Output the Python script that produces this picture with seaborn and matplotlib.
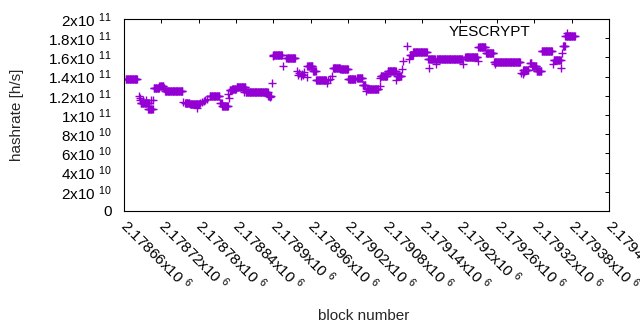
import numpy as np
import pandas as pd
import matplotlib
matplotlib.use("Agg")
import matplotlib.pyplot as plt
import seaborn as sns

# ---------------- data ----------------
block_base = 2178660

# runs of consecutive blocks with (nearly) constant hashrate, in 1e9 h/s
seg_start = [3, 27, 39, 48, 57, 64, 66, 98, 106, 138, 155, 158, 170, 174, 181,
             196, 232, 240, 261, 295, 304, 309, 336, 348, 361, 375, 384, 391,
             413, 424, 439, 460, 465, 489, 503, 549, 552, 570, 582, 595, 605,
             642, 653, 656, 664, 672, 691, 706, 710]
seg_end = [21, 40, 46, 56, 63, 65, 94, 105, 121, 153, 157, 167, 173, 180, 195,
           231, 236, 254, 275, 303, 308, 325, 347, 360, 372, 383, 388, 409,
           423, 437, 446, 464, 487, 500, 544, 551, 568, 581, 594, 604, 637,
           650, 655, 663, 671, 688, 702, 709, 725]
seg_hashrate = [137.7, 113.0, 106.7, 128.5, 130.0, 128.0, 124.7, 113.0, 111.0,
                119.5, 112.0, 109.3, 126.0, 127.0, 129.5, 123.6, 120.0, 162.4,
                159.3, 151.3, 146.0, 136.8, 149.2, 148.2, 137.3, 139.0, 131.0,
                127.5, 141.0, 145.6, 141.0, 163.0, 165.8, 158.5, 158.2, 160.0,
                160.6, 170.5, 165.1, 155.4, 154.7, 147.0, 154.0, 151.0, 146.1,
                166.8, 157.8, 172.0, 181.8]

# isolated blocks (offset from block_base), in 1e9 h/s
pt_block = [24, 25, 26, 31, 36, 44, 47, 95, 117, 122, 125, 128, 131, 134,
            168, 169, 193, 235, 238, 239, 256, 278, 280, 282, 284, 286, 288,
            290, 294, 327, 328, 331, 334, 364, 389, 411, 412, 438, 447, 449,
            455, 458, 491, 501, 545, 569, 597, 639, 641, 643, 690, 703, 705,
            713]
pt_hashrate = [120.2, 118.0, 115.7, 115.7, 115.7, 115.7, 116.0, 113.3, 107.0,
               112.0, 113.5, 115.0, 116.0, 117.0, 122.0, 118.0, 124.4, 118.5,
               133.4, 161.7, 151.3, 146.0, 142.0, 144.0, 141.0, 143.0, 142.0,
               145.0, 140.0, 133.7, 136.0, 138.0, 141.0, 138.0, 125.4, 130.6,
               139.0, 136.8, 148.0, 156.5, 172.0, 158.5, 149.0, 153.0, 153.0,
               156.0, 153.0, 144.0, 143.0, 145.0, 153.0, 149.0, 165.0, 185.5]

x_ticks = [2178660, 2178720, 2178780, 2178840, 2178900, 2178960, 2179020,
           2179080, 2179140, 2179200, 2179260, 2179320, 2179380, 2179440]
x_tick_labels = ["2.17866x10", "2.17872x10", "2.17878x10", "2.17884x10",
                 "2.1789x10", "2.17896x10", "2.17902x10", "2.17908x10",
                 "2.17914x10", "2.1792x10", "2.17926x10", "2.17932x10",
                 "2.17938x10", "2.17944x10"]
x_tick_exp = "6"

y_ticks = [0, 2e10, 4e10, 6e10, 8e10, 1e11, 1.2e11, 1.4e11, 1.6e11, 1.8e11, 2e11]
y_tick_mant = ["0", "2x10", "4x10", "6x10", "8x10", "1x10", "1.2x10", "1.4x10",
               "1.6x10", "1.8x10", "2x10"]
y_tick_exp = ["", "10", "10", "10", "10", "11", "11", "11", "11", "11", "11"]

# ---------------- build table ----------------
blocks, rates = [], []
for s, e, v in zip(seg_start, seg_end, seg_hashrate):
    for b in range(s, e + 1):
        blocks.append(block_base + b)
        rates.append(v * 1e9)
for b, v in zip(pt_block, pt_hashrate):
    blocks.append(block_base + b)
    rates.append(v * 1e9)
df = pd.DataFrame({"block": blocks, "hashrate": rates}).sort_values("block")

# ---------------- style ----------------
sns.set_style("white")
plt.rcParams["font.family"] = ["Liberation Sans", "DejaVu Sans"]
plt.rcParams["mathtext.fontset"] = "custom"
plt.rcParams["mathtext.rm"] = "Liberation Sans"
plt.rcParams["mathtext.it"] = "Liberation Sans:italic"
plt.rcParams["mathtext.bf"] = "Liberation Sans:bold"

fig = plt.figure(figsize=(6.4, 3.3), dpi=100)
ax = fig.add_axes([124 / 640, 1 - 211 / 330, 485 / 640, 192 / 330])

sns.scatterplot(data=df, x="block", y="hashrate", marker="+", s=34,
                color="#9400D3", linewidth=1.0, ax=ax, legend=False)

ax.set_xlim(2178660, 2179440)
ax.set_ylim(0, 2e11)

ax.set_xticks(x_ticks)
ax.set_xticklabels([f"{m} $^{{{x_tick_exp}}}$" for m in x_tick_labels],
                   rotation=-45, rotation_mode="anchor", ha="left", va="center")
ax.set_yticks(y_ticks)
ax.set_yticklabels([m if not e else f"{m} $^{{{e}}}$"
                    for m, e in zip(y_tick_mant, y_tick_exp)])

ax.tick_params(axis="both", direction="in", length=3.2, width=0.7,
               top=True, right=True, labelsize=11, colors="black")
ax.tick_params(axis="y", pad=9)
ax.tick_params(axis="x", pad=8)

for sp in ax.spines.values():
    sp.set_visible(True)
    sp.set_color("black")
    sp.set_linewidth(0.8)

ax.set_ylabel("hashrate [h/s]", fontsize=11)
ax.yaxis.label.set_va("center")
ax.yaxis.set_label_coords((17 - 124) / 485, 0.5)
ax.set_xlabel("block number", fontsize=11)
ax.xaxis.label.set_va("center")
ax.xaxis.set_label_coords((364 - 124) / 485, (211 - 316) / 192)

ax.text((490 - 124) / 485, (211 - 32) / 192, "YESCRYPT", transform=ax.transAxes,
        ha="center", va="center", fontsize=11, color="black")

fig.savefig("out.png", dpi=100)
